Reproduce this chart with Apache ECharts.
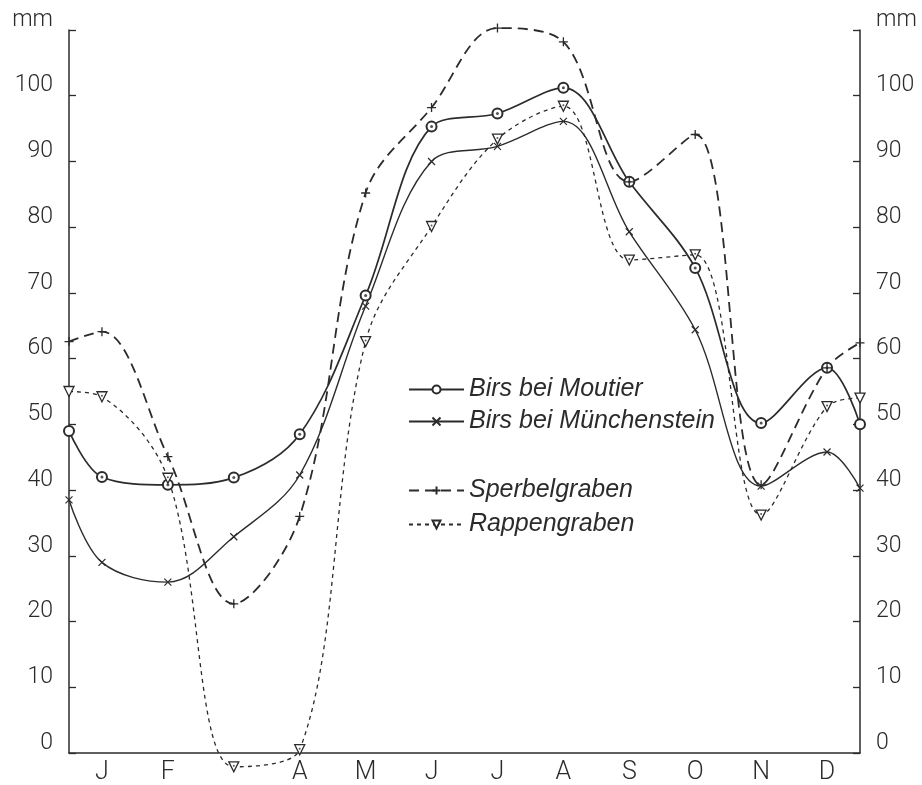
<!DOCTYPE html>
<html>
<head>
<meta charset="utf-8">
<style>
  html, body { margin: 0; padding: 0; background: #fff; }
  #chart { width: 922px; height: 785px; }
</style>
<script src="https://cdn.jsdelivr.net/npm/echarts@6/dist/echarts.min.js"></script>
</head>
<body>
<div id="chart"></div>
<script>
// month axis (March has no letter in the original)
const months = ['J', 'F', '', 'A', 'M', 'J', 'J', 'A', 'S', 'O', 'N', 'D'];
// x positions: left edge, 12 month centres, right edge
const xPos = [0, 0.5, 1.5, 2.5, 3.5, 4.5, 5.5, 6.5, 7.5, 8.5, 9.5, 10.5, 11.5, 12];

// mm per month, with the value at the left and right edge of the frame
const moutier      = [49, 42.0, 40.8, 41.9, 48.5, 69.6, 95.3, 97.3, 101.2, 86.9, 73.8, 50.2, 58.6, 50];
const muenchenstein = [38.5, 29.0, 26.0, 32.9, 42.3, 68.0, 90.0, 92.3, 96.1, 79.3, 64.4, 40.6, 45.8, 40.3];
const sperbelgraben = [62.6, 64.1, 45.1, 22.7, 36.0, 85.2, 98.2, 110.3, 108.2, 86.9, 94.1, 40.8, 58.6, 62.4];
const rappengraben  = [55.0, 54.2, 41.8, -2.1, 0.5, 62.6, 80.1, 93.4, 98.4, 75.0, 75.8, 36.2, 52.7, 54.0];

const yTicks = [0, 110, 10];

function pairs(vals) {
    return vals.map(function (v, i) { return [xPos[i], v]; });
}
// month points only (no edge values), for the small dots inside the markers
function monthPairs(vals) {
    return pairs(vals).slice(1, 13);
}

const ink = '#2b2b2b';
const numFont = 'Roboto';
const legendText = {fontFamily: 'Liberation Sans', fontStyle: 'italic', fontSize: 25, color: ink};

const chart = echarts.init(document.getElementById('chart'));

function yAxis(pos) {
    return {
        type: 'value',
        position: pos,
        min: yTicks[0],
        max: yTicks[1],
        interval: yTicks[2],
        splitLine: {show: false},
        axisLine: {show: true, lineStyle: {color: ink, width: 1.5}},
        axisTick: {show: true, inside: true, length: 7, lineStyle: {color: ink, width: 1.3}},
        axisLabel: {
            margin: 16,
            fontFamily: numFont,
            fontWeight: 300,
            fontSize: 23,
            color: ink,
            verticalAlign: 'bottom',
            lineHeight: 20,
            formatter: function (v) { return v === 110 ? 'mm' : v; }
        }
    };
}

const option = {
    backgroundColor: '#fff',
    animation: false,
    grid: {left: 69, right: 62, top: 30, bottom: 32},
    xAxis: [{
        type: 'category',
        data: months,
        boundaryGap: true,
        axisLine: {lineStyle: {color: ink, width: 1.5}},
        axisTick: {inside: true, length: 8, alignWithLabel: true, lineStyle: {color: ink, width: 1.3}},
        axisLabel: {margin: 7, fontFamily: numFont, fontWeight: 300, fontSize: 25, color: ink}
    }, {
        type: 'value',
        min: 0,
        max: 12,
        show: false
    }],
    yAxis: [yAxis('left'), yAxis('right')],
    legend: [{
        orient: 'vertical',
        left: 403,
        top: 372,
        itemWidth: 55,
        itemHeight: 10,
        itemGap: 7,
        data: ['Birs bei Moutier', 'Birs bei Münchenstein'],
        textStyle: legendText
    }, {
        orient: 'vertical',
        left: 403,
        top: 473,
        itemWidth: 55,
        itemHeight: 10,
        itemGap: 9,
        data: ['Sperbelgraben', 'Rappengraben'],
        textStyle: legendText
    }],
    series: [{
        name: 'Birs bei Moutier',
        type: 'line',
        xAxisIndex: 1,
        data: pairs(moutier),
        smooth: 0.35,
        clip: false,
        symbol: 'emptyCircle',
        symbolSize: 10,
        lineStyle: {color: ink, width: 1.7},
        itemStyle: {color: ink, borderWidth: 1.3}
    }, {
        name: 'Birs bei Münchenstein',
        type: 'line',
        xAxisIndex: 1,
        data: pairs(muenchenstein),
        smooth: 0.35,
        clip: false,
        symbol: 'path://M0,0L10,10M10,0L0,10',
        symbolSize: 7,
        lineStyle: {color: ink, width: 1.4},
        itemStyle: {color: ink, borderColor: ink, borderWidth: 1.2}
    }, {
        name: 'Sperbelgraben',
        type: 'line',
        xAxisIndex: 1,
        data: pairs(sperbelgraben),
        smooth: 0.35,
        clip: false,
        symbol: 'path://M5,0L5,10M0,5L10,5',
        symbolSize: 9,
        lineStyle: {color: ink, width: 1.8, type: [10, 6]},
        itemStyle: {color: ink, borderColor: ink, borderWidth: 1.3}
    }, {
        name: 'Rappengraben',
        type: 'line',
        xAxisIndex: 1,
        data: pairs(rappengraben),
        smooth: 0.35,
        clip: false,
        symbol: 'path://M0,0L10,0L5,9Z',
        symbolSize: 10,
        lineStyle: {color: ink, width: 1.3, type: [4, 4]},
        itemStyle: {color: '#fff', borderColor: ink, borderWidth: 1.3}
    }, {
        name: 'dots-moutier',
        type: 'scatter',
        xAxisIndex: 1,
        data: monthPairs(moutier),
        symbol: 'circle',
        symbolSize: 3,
        z: 5,
        clip: false,
        silent: true,
        itemStyle: {color: ink}
    }, {
        name: 'dots-rappen',
        type: 'scatter',
        xAxisIndex: 1,
        data: monthPairs(rappengraben),
        symbol: 'circle',
        symbolSize: 2,
        symbolOffset: [0, -1],
        z: 5,
        clip: false,
        silent: true,
        itemStyle: {color: ink}
    }]
};

chart.setOption(option);
</script>
</body>
</html>
